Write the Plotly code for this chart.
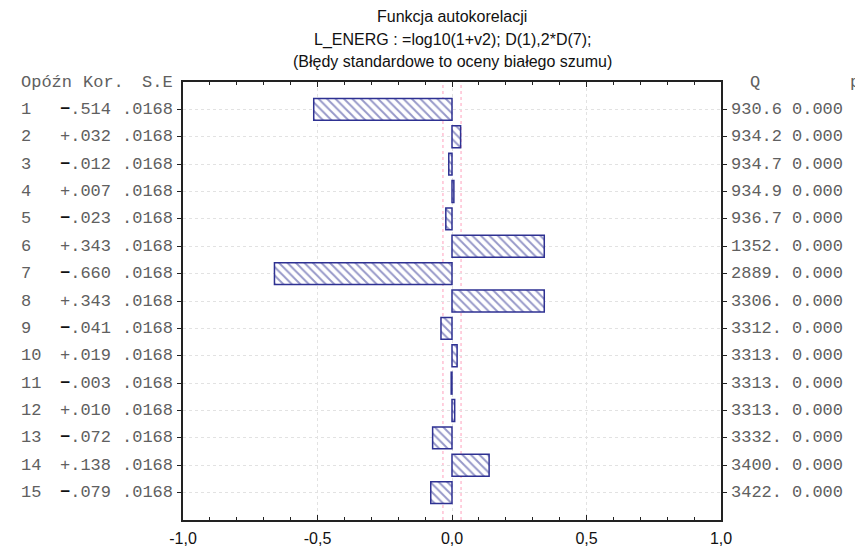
import plotly.graph_objects as go

lags = list(range(1, 16))
kor = [-0.514, 0.032, -0.012, 0.007, -0.023, 0.343, -0.660, 0.343, -0.041, 0.019, -0.003, 0.010, -0.072, 0.138, -0.079]
se = [0.0168] * 15
q_vals = ["930.6", "934.2", "934.7", "934.9", "936.7", "1352.", "2889.", "3306.", "3312.", "3313.", "3313.", "3313.", "3332.", "3400.", "3422."]
p_vals = ["0.000"] * 15
x_tickvals = [-1.0, -0.5, 0.0, 0.5, 1.0]
x_ticktext = ["-1,0", "-0,5", "0,0", "0,5", "1,0"]
title_lines = ["Funkcja autokorelacji",
               "L_ENERG : =log10(1+v2); D(1),2*D(7);",
               "(Błędy standardowe to oceny białego szumu)"]

# page has an 8px body margin; figure is sized/shifted to compensate
OFF = 8
W, H = 863 - OFF, 548 - OFF
PL, PR, PT, PB = 183, 721, 82, 520   # plot area in page pixels
ML, MT = PL - OFF, PT - OFF
MR = W - (PR - OFF)
MB = H - (PB - OFF)
PW = PR - PL
PH = PB - PT

def xp(px):
    return (px - PL) / PW

def yp(py):
    return (PB - py) / PH

NAVY = "#2e3192"
TXT = "#606060"
MONO = "Liberation Mono"

fig = go.Figure()
fig.add_trace(go.Bar(
    x=kor, y=lags, orientation="h", width=0.8,
    marker=dict(color="white", line=dict(color=NAVY, width=1.5),
                pattern=dict(shape="\\", fgcolor=NAVY, bgcolor="white", size=6, solidity=0.32)),
    showlegend=False, hoverinfo="x+y",
))

# confidence limits (2 * S.E)
for s in (-1, 1):
    lim = s * 2 * se[0]
    fig.add_shape(type="line", x0=lim, x1=lim, y0=0, y1=1, xref="x", yref="paper",
                  line=dict(color="rgba(255,120,160,0.7)", width=1, dash="dot"), layer="below")

ann = []
def txt(x, y, s, anchor, size=17, font=MONO, color=TXT, yref="y"):
    ann.append(dict(x=x, y=y, xref="paper", yref=yref, text=s, showarrow=False,
                    xanchor=anchor, yanchor="middle",
                    font=dict(family=font, size=size, color=color)))

# headers
txt(xp(19), 0, "Opóźn", "left")
txt(xp(81), 0, "Kor.", "left")
txt(xp(175), 0, "S.E", "right")
txt(xp(755), 0, "Q", "center")
txt(xp(855), 0, "p", "center")

for lag, k, s_, q, p in zip(lags, kor, se, q_vals, p_vals):
    mag = f"{abs(k):.3f}"[1:]
    if k < 0:
        ks = "<span style='color:#111'><b>−</b></span>" + mag
    else:
        ks = "+" + mag
    txt(xp(19), lag, str(lag), "left")
    txt(xp(113), lag, ks, "right")
    txt(xp(175), lag, f"{s_:.4f}"[1:], "right")
    txt(xp(729), lag, q, "left")
    txt(xp(790), lag, p, "left")

for line, py in zip(title_lines, [16, 40, 61]):
    txt(0.5, yp(py), line, "center", size=16, font="Liberation Sans", color="#111", yref="paper")

fig.update_layout(
    width=W, height=H,
    margin=dict(l=ML, r=MR, t=MT, b=MB, pad=0, autoexpand=False),
    paper_bgcolor="white", plot_bgcolor="white",
    annotations=ann,
    xaxis=dict(range=[-1, 1], tickvals=x_tickvals, ticktext=x_ticktext,
               ticks="inside", ticklen=5, tickcolor="#222", mirror="ticks",
               showline=True, linecolor="#222", linewidth=1.5,
               showgrid=True, gridcolor="#e2e2e2", griddash="dot", gridwidth=1,
               zeroline=False, automargin=False,
               minor=dict(dtick=0.1, ticks="inside", ticklen=3, tickcolor="#222", showgrid=False),
               tickfont=dict(family="Liberation Sans", size=16, color="#111"),
               ticklabelstandoff=3, fixedrange=True),
    yaxis=dict(range=[16, 0], tickvals=lags, showticklabels=False,
               ticks="outside", ticklen=4, tickcolor="#222", mirror="ticks",
               showline=True, linecolor="#222", linewidth=1.5,
               showgrid=True, gridcolor="#e2e2e2", griddash="dot", gridwidth=1,
               zeroline=False, automargin=False, fixedrange=True),
)

fig.write_html("out.html")
